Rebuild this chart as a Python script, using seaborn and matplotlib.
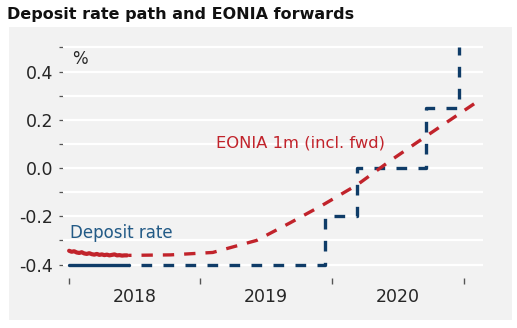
import matplotlib
matplotlib.use("Agg")
import matplotlib.pyplot as plt
import matplotlib.dates as mdates
from matplotlib.patches import Rectangle
from matplotlib.ticker import NullFormatter, FixedLocator
import seaborn as sns
import pandas as pd
import numpy as np

# ---------------- data ----------------
deposit_hist_dates = ["2018-01-01", "2018-06-15"]
deposit_hist_vals = [-0.40, -0.40]

deposit_path_dates = ["2018-06-15", "2019-12-12", "2020-03-10", "2020-09-20", "2020-12-20"]
deposit_path_vals = [-0.40, -0.20, 0.00, 0.25, 0.50]

eonia_hist_dates = pd.date_range("2018-01-01", "2018-06-15", freq="7D").strftime("%Y-%m-%d").tolist()
eonia_hist_vals = [-0.343, -0.347, -0.345, -0.350, -0.352, -0.349, -0.354, -0.356,
                   -0.353, -0.357, -0.359, -0.356, -0.360, -0.358, -0.361, -0.359,
                   -0.362, -0.360, -0.358, -0.362, -0.361, -0.363, -0.362, -0.362][:len(eonia_hist_dates)]

eonia_fwd_dates = ["2018-06-15", "2018-10-10", "2019-02-04", "2019-06-06", "2019-09-06",
                   "2019-12-07", "2020-03-11", "2020-06-11", "2020-09-22", "2021-02-08"]
eonia_fwd_vals = [-0.362, -0.360, -0.350, -0.300, -0.228, -0.153, -0.070, 0.030, 0.135, 0.275]

year_labels = ["2018", "2019", "2020"]
y_major = [-0.4, -0.2, 0.0, 0.2, 0.4]
y_minor = [-0.3, -0.1, 0.1, 0.3, 0.5]

# ---------------- style ----------------
sns.set_theme(style="white")
plt.rcParams["font.family"] = ["DejaVu Sans"]

NAVY = "#0f3c68"
RED = "#c1232b"
LBLUE = "#225a86"
BG = "#f2f2f2"
TXT = "#262626"

W, H = 517, 328
fig = plt.figure(figsize=(W / 100, H / 100), dpi=100)
fig.patch.set_facecolor("white")
fig.patches.append(Rectangle((9 / W, 1 - 320 / H), 503 / W, 293 / H,
                             transform=fig.transFigure, facecolor=BG,
                             edgecolor="none", zorder=-5))

ax_top, ax_bot = 45.0, 277.8
ax = fig.add_axes([63 / W, 1 - ax_bot / H, 420 / W, (ax_bot - ax_top) / H])
ax.set_facecolor(BG)
ax.patch.set_alpha(0)

def df(d, v):
    return pd.DataFrame({"date": pd.to_datetime(d), "val": v})

# deposit rate
sns.lineplot(data=df(deposit_hist_dates, deposit_hist_vals), x="date", y="val",
             ax=ax, color=NAVY, linewidth=2.4, zorder=4)
sns.lineplot(data=df(deposit_path_dates, deposit_path_vals), x="date", y="val",
             ax=ax, color=NAVY, linewidth=2.4, drawstyle="steps-post", zorder=4)
ax.lines[-1].set_linestyle((3.0, (3.2, 3.4)))

# EONIA
sns.lineplot(data=df(eonia_hist_dates, eonia_hist_vals), x="date", y="val",
             ax=ax, color=RED, linewidth=3.0, zorder=5)
sns.lineplot(data=df(eonia_fwd_dates, eonia_fwd_vals), x="date", y="val",
             ax=ax, color=RED, linewidth=2.4, zorder=5)
ax.lines[-1].set_linestyle((2.5, (3.4, 3.0)))

# axes limits
ax.set_xlim(pd.Timestamp("2017-12-15"), pd.Timestamp("2021-02-24"))
ax.set_ylim(-0.455, 0.51)

# y ticks / grid
ax.yaxis.set_major_locator(FixedLocator(y_major))
ax.yaxis.set_minor_locator(FixedLocator(y_minor))
ax.set_yticklabels([f"{v:.1f}" for v in y_major])
ax.grid(False)
for v in y_major + y_minor:
    ax.axhline(v, color="white", linewidth=1.6, zorder=1)
ax.tick_params(axis="y", which="both", direction="out", length=3, width=0.9,
               color="#555555", labelsize=12.5, labelcolor=TXT, pad=4, left=True)

# x ticks
years = [pd.Timestamp(f"{y}-01-01") for y in range(2018, 2022)]
mids = [pd.Timestamp(f"{y}-07-02") for y in year_labels]
ax.xaxis.set_major_locator(FixedLocator(mdates.date2num(years)))
ax.xaxis.set_major_formatter(NullFormatter())
ax.xaxis.set_minor_locator(FixedLocator(mdates.date2num(mids)))
ax.set_xticklabels(year_labels, minor=True)
ax.tick_params(axis="x", which="major", direction="out", length=4.5, width=1.0,
               color="#555555", bottom=True)
ax.tick_params(axis="x", which="minor", length=0, labelsize=12.5, labelcolor=TXT,
               pad=7, bottom=True)

for s in ax.spines.values():
    s.set_visible(False)
ax.set_xlabel("")
ax.set_ylabel("")

# annotations
ax.text(0.021, 0.94, "%", transform=ax.transAxes, fontsize=12, color=TXT,
        va="center", ha="left")
ax.text(0.017, 0.192, "Deposit rate", transform=ax.transAxes, fontsize=12,
        color=LBLUE, va="center", ha="left")
ax.text(0.364, 0.579, "EONIA 1m (incl. fwd)", transform=ax.transAxes, fontsize=11.8,
        color=RED, va="center", ha="left")

fig.text(7 / W, 1 - 15 / H, "Deposit rate path and EONIA forwards", fontsize=11.5,
         fontweight="bold", color="#111111", va="center", ha="left")

fig.savefig("out.png", dpi=100, facecolor="white")
